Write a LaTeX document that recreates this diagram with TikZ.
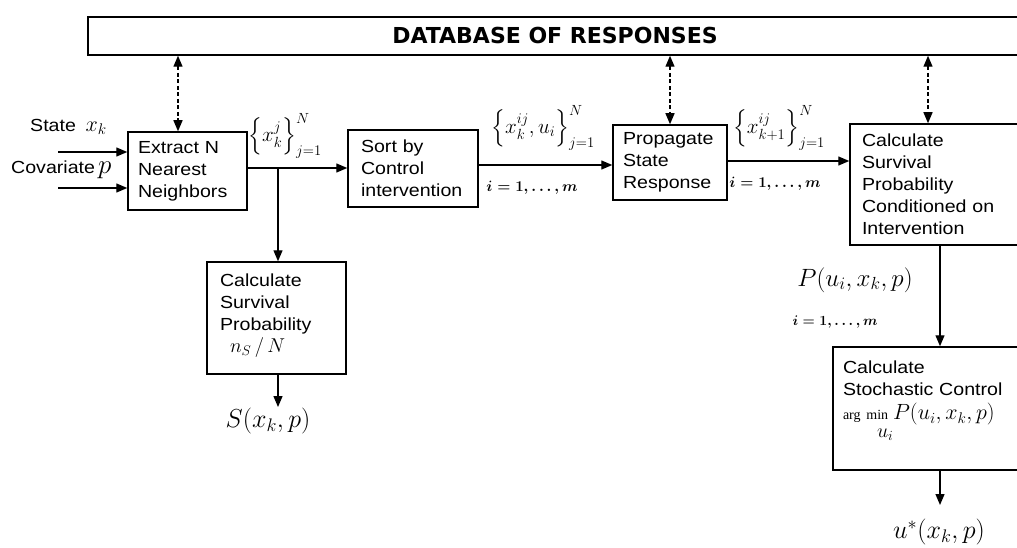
\RequirePackage{fix-cm}
\documentclass[tikz,border=0pt]{standalone}
\usepackage{fontspec}
\usepackage{amsmath}
\setmainfont{Liberation Serif}
\newfontfamily\boxfont[FakeStretch=1.12]{Liberation Sans}
\newfontfamily\titlefont{DejaVu Sans}
\usetikzlibrary{arrows.meta}
\begin{document}
\begin{tikzpicture}[x=1pt,y=-1pt,
  box/.style={draw, line width=1.5pt, align=left, inner xsep=0pt, inner ysep=0pt,
    font=\boxfont\fontsize{17.5}{22}\selectfont},
  arr/.style={line width=1.3pt, -{Triangle[length=11pt,width=9pt]}},
  darr/.style={line width=1.3pt, dash pattern=on 4pt off 2.5pt,
    {Triangle[length=11pt,width=9pt]}-{Triangle[length=11pt,width=9pt]}},
  lab/.style={inner sep=0pt, font=\boxfont\fontsize{17.5}{22}\selectfont},
  mlab/.style={inner sep=0pt, font=\fontsize{21}{24}\selectfont},
  ilab/.style={inner sep=0pt, font=\boldmath\fontsize{15}{18}\selectfont},
  blab/.style={inner sep=0pt, font=\fontsize{26}{30}\selectfont}]
\path[use as bounding box] (0,0) rectangle (1017,548);
\clip (0,0) rectangle (1017,548);

% database
\node[draw, line width=1.5pt, minimum width=952pt, minimum height=38pt, inner sep=0pt] (db) at (564,36) {};
\node[inner sep=0pt, font=\titlefont\bfseries\fontsize{22}{26}\selectfont] (title) at (555,35) {DATABASE OF RESPONSES};

% boxes
\node[box, minimum width=119pt, minimum height=78pt, text width=99pt] (extract) at (187.5,171) {Extract N\\Nearest\\Neighbors};
\node[box, minimum width=130pt, minimum height=77pt, text width=104pt] (sort) at (413,168.5) {Sort by\\Control\\intervention};
\node[box, minimum width=114pt, minimum height=75pt, text width=94pt] (prop) at (670,162.5) {Propagate\\State\\Response};
\node[box, minimum width=190pt, minimum height=121pt, text width=166pt] (calc) at (945,184.5) {Calculate\\Survival\\Probability\\Conditioned on\\Intervention};
\node[box, minimum width=139pt, minimum height=112pt, text width=113pt] (surv) at (276.5,318) {Calculate\\Survival\\Probability\\\hspace*{10pt}{\fontsize{20}{22}\selectfont$n_S\,/\,N$}\\[-12pt]\mbox{}};
\node[box, minimum width=207pt, minimum height=123pt, text width=187pt] (stoch) at (936.5,408.5) {Calculate\\Stochastic Control\\[2pt]{\rmfamily\fontsize{14}{16}\selectfont arg min}\;{\fontsize{22}{24}\selectfont$P(u_i,x_k,p)$}\\[-4pt]\hspace*{34pt}{\fontsize{20}{22}\selectfont$u_i$}\\[-4pt]\mbox{}};

% inputs
\node[lab, anchor=west] (statelab) at (30,127) {State\;\;{\fontsize{22}{24}\selectfont$x_k$}};
\node[lab, anchor=west] (covlab) at (11,170) {Covariate\,{\fontsize{27}{30}\selectfont$p$}};
\coordinate (statein) at (58,152);
\coordinate (covin) at (58,188);
\draw[arr] (statein) -- (statein -| extract.west);
\draw[arr] (covin) -- (covin -| extract.west);

% main flow
\coordinate (br) at (278,168);
\draw[arr] (extract.east |- br) -- (sort.west |- br);
\draw[arr] (br) -- (br |- surv.north);
\coordinate (sp) at (0,165);
\draw[arr] (sort.east |- sp) -- (prop.west |- sp);
\coordinate (pc) at (0,161);
\draw[arr] (prop.east |- pc) -- (calc.west |- pc);
\coordinate (cx) at (940,0);
\draw[arr] (calc.south -| cx) -- (stoch.north -| cx);
\coordinate (uend) at (940,505);
\draw[arr] (stoch.south -| cx) -- (uend);
\coordinate (send) at (278,407);
\draw[arr] (surv.south -| br) -- (send);

% database links
\coordinate (d1) at (178,0);
\coordinate (d2) at (670,0);
\coordinate (d3) at (928,0);
\draw[darr] (db.south -| d1) -- (extract.north -| d1);
\draw[darr] (db.south -| d2) -- (prop.north -| d2);
\draw[darr] (db.south -| d3) -- (calc.north -| d3);

% labels
\node[mlab] (l1) at (285,136) {$\left\{x_k^{j}\right\}_{j=1}^{N}$};
\node[mlab] (l2) at (543,128) {$\left\{x_k^{ij},u_i\right\}_{j=1}^{N}$};
\node[ilab] (l3) at (532,188) {$i=1,\ldots,m$};
\node[mlab] (l4) at (779,128) {$\left\{x_{k+1}^{ij}\right\}_{j=1}^{N}$};
\node[ilab] (l5) at (775,184) {$i=1,\ldots,m$};
\node[inner sep=0pt, font=\fontsize{25}{28}\selectfont] (l6) at (855,280) {$P(u_i,x_k,p)$};
\node[inner sep=0pt, font=\boldmath\fontsize{14}{17}\selectfont] (l7) at (835,322) {$i=1,\ldots,m$};
\node[blab] (slab) at (268,421) {$S(x_k,p)$};
\node[blab] (ustar) at (939,532) {$u^{*}(x_k,p)$};
\end{tikzpicture}
\end{document}
